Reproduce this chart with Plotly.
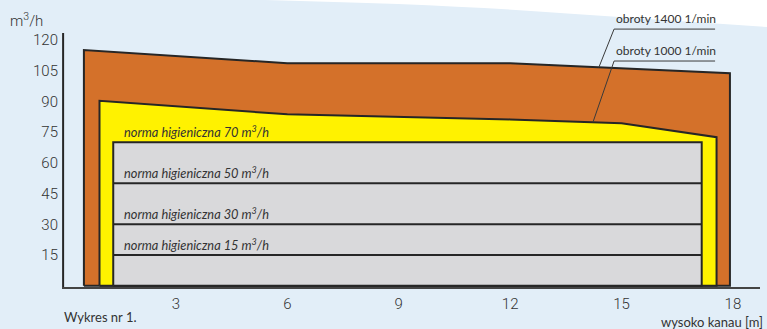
import numpy as np
import plotly.graph_objects as go

# Channel height [m] vs. airflow [m3/h] for the two fan speeds
heights_1400 = [0.52, 6.0, 12.0, 17.92]
flow_1400 = [115.1, 108.6, 108.6, 103.7]

heights_1000 = [0.94, 6.0, 12.0, 15.0, 17.56]
flow_1000 = [90.3, 83.7, 81.2, 79.3, 72.5]

# Hygienic norms [m3/h] and the height span they are drawn over
norm_levels = [70, 50, 30, 15]
norm_span = [1.31, 17.16]

x_ticks = [3, 6, 9, 12, 15, 18]
y_ticks = [15, 30, 45, 60, 75, 90, 105, 120]

speed_labels = ["obroty 1400 1/min", "obroty 1000 1/min"]

BG = "#e2eef8"
ORANGE = "#d4712a"
YELLOW = "#fff200"
GREY = "#d9d9db"
EDGE = "#262626"
TEXT = "#333333"
TICK_FONT = dict(family="Roboto", size=15, color="#333333", weight=300)

X_RANGE = [-0.07, 18.73]
Y_RANGE = [-0.63, 139.5]
AXIS_TOP = 123.4


def area(xs, ys):
    px = [xs[0]] + list(xs) + [xs[-1], xs[0]]
    py = [0] + list(ys) + [0, 0]
    return px, py


fig = go.Figure()

for xs, ys, color in [(heights_1400, flow_1400, ORANGE),
                      (heights_1000, flow_1000, YELLOW)]:
    px, py = area(xs, ys)
    fig.add_trace(go.Scatter(x=px, y=py, mode="lines", fill="toself",
                             fillcolor=color, line=dict(color=EDGE, width=2),
                             hoverinfo="skip", showlegend=False))

# grey block up to the highest norm
gx = [norm_span[0], norm_span[0], norm_span[1], norm_span[1], norm_span[0]]
gy = [0, max(norm_levels), max(norm_levels), 0, 0]
fig.add_trace(go.Scatter(x=gx, y=gy, mode="lines", fill="toself",
                         fillcolor=GREY, line=dict(color=EDGE, width=2),
                         hoverinfo="skip", showlegend=False))

for lvl in norm_levels[1:]:
    fig.add_trace(go.Scatter(x=norm_span, y=[lvl, lvl], mode="lines",
                             line=dict(color=EDGE, width=2),
                             hoverinfo="skip", showlegend=False))

annotations = []
for lvl in norm_levels:
    annotations.append(dict(
        x=1.55, y=lvl, xref="x", yref="y", xanchor="left", yanchor="bottom",
        text=f"<i>norma higieniczna {lvl} m<sup>3</sup>/h</i>",
        showarrow=False, font=dict(family="Lato", size=12.8, color=TEXT)))

# leader lines from the speed labels to their curves
shapes = []
leaders = [
    (heights_1400, flow_1400, 14.39, 14.80, 17.52, 125.3, speed_labels[0]),
    (heights_1000, flow_1000, 14.23, 14.80, 17.52, 109.7, speed_labels[1]),
]
for xs, ys, x_hit, x_bend, x_end, y_lab, label in leaders:
    y_hit = float(np.interp(x_hit, xs, ys))
    shapes.append(dict(type="path", xref="x", yref="y",
                       path=f"M {x_end},{y_lab} L {x_bend},{y_lab} L {x_hit},{y_hit}",
                       line=dict(color="#3a3a3a", width=1)))
    annotations.append(dict(
        x=x_bend, y=y_lab, xref="x", yref="y", xanchor="left", yanchor="bottom",
        yshift=1, text=label, showarrow=False,
        font=dict(family="Lato", size=12, color=TEXT)))

# vertical value axis
shapes.append(dict(type="line", xref="x", yref="y",
                   x0=X_RANGE[0] + 0.03, x1=X_RANGE[0] + 0.03,
                   y0=Y_RANGE[0], y1=AXIS_TOP,
                   line=dict(color=EDGE, width=2)))

# white corner at the top of the page
shapes.append(dict(type="path", xref="paper", yref="paper", layer="below",
                   path="M 0.2908,1.0 Q 0.55,0.985 0.7135,0.9547 L 1.01,0.9059 L 1.01,1.0 Z",
                   fillcolor="white", line=dict(width=0)))

annotations += [
    dict(x=-0.0774, y=0.93, xref="paper", yref="paper", xanchor="left",
         yanchor="middle", text="m<sup>3</sup>/h", showarrow=False,
         font=TICK_FONT),
    dict(x=0.0, y=-0.104, xref="paper", yref="paper", xanchor="left",
         yanchor="middle", text="Wykres nr 1.", showarrow=False,
         font=dict(family="Lato", size=13, color=TEXT)),
    dict(x=1.007, y=-0.122, xref="paper", yref="paper", xanchor="right",
         yanchor="middle", text="wysoko kanau [m]", showarrow=False,
         font=dict(family="Lato", size=13, color=TEXT)),
]

fig.update_layout(
    width=767, height=329,
    margin=dict(l=62, r=7, t=0, b=42),
    paper_bgcolor=BG, plot_bgcolor="rgba(0,0,0,0)",
    shapes=shapes, annotations=annotations, showlegend=False,
    xaxis=dict(range=X_RANGE, tickvals=x_ticks, showgrid=False, zeroline=False,
               showline=True, linecolor="#444444", linewidth=1.5, ticks="",
               ticklabelstandoff=2, tickfont=TICK_FONT),
    yaxis=dict(range=Y_RANGE, tickvals=y_ticks, showgrid=False, zeroline=False,
               showline=False, ticks="", ticklabelstandoff=3,
               tickfont=TICK_FONT),
)

fig.write_html("out.html")
